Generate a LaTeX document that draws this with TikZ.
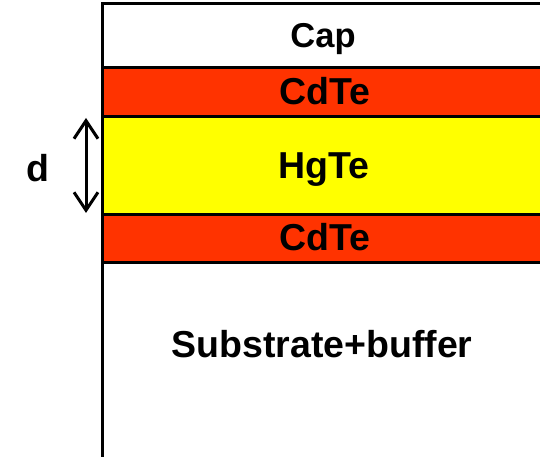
\documentclass[tikz,border=0pt]{standalone}
\usepackage{fontspec}
\setmainfont{Liberation Sans}
\usetikzlibrary{arrows.meta}
\definecolor{cdred}{HTML}{FF3300}
\definecolor{hgyellow}{HTML}{FFFF00}
\begin{document}
\begin{tikzpicture}[x=1pt,y=1pt,
  layer/.style={draw=black,line width=3pt},
  lbl/.style={anchor=base,inner sep=0pt,font=\fontsize{37.5}{42}\selectfont\bfseries},
  barb/.tip={Straight Barb[length=18pt,width=24pt,line width=3pt]}]
\useasboundingbox (0,0) rectangle (540,457);
\begin{scope}
\clip (0,0) rectangle (540,457);
\path[layer,fill=white] (102,-3) rectangle (560,194);
\path[layer,fill=cdred] (102,194) rectangle (560,242);
\path[layer,fill=hgyellow] (102,242) rectangle (560,340);
\path[layer,fill=cdred] (102,340) rectangle (560,389);
\path[layer,fill=white] (102,389) rectangle (560,453);
\end{scope}
\node[lbl,font=\fontsize{34.5}{40}\selectfont\bfseries] (cap) at (323,409) {Cap};
\node[lbl] (cdte1) at (324.5,352.5) {CdTe};
\node[lbl] (hgte) at (324,278) {HgTe};
\node[lbl] (cdte2) at (324.5,206.5) {CdTe};
\node[lbl] (sub) at (322,99.5) {Substrate+buffer};
\node[lbl] (d) at (37.5,275.5) {d};
\coordinate (dtop) at (86,339);
\coordinate (dbot) at (86,244);
\draw[line width=3pt,barb-barb] (dbot) -- (dtop);
\end{tikzpicture}
\end{document}
